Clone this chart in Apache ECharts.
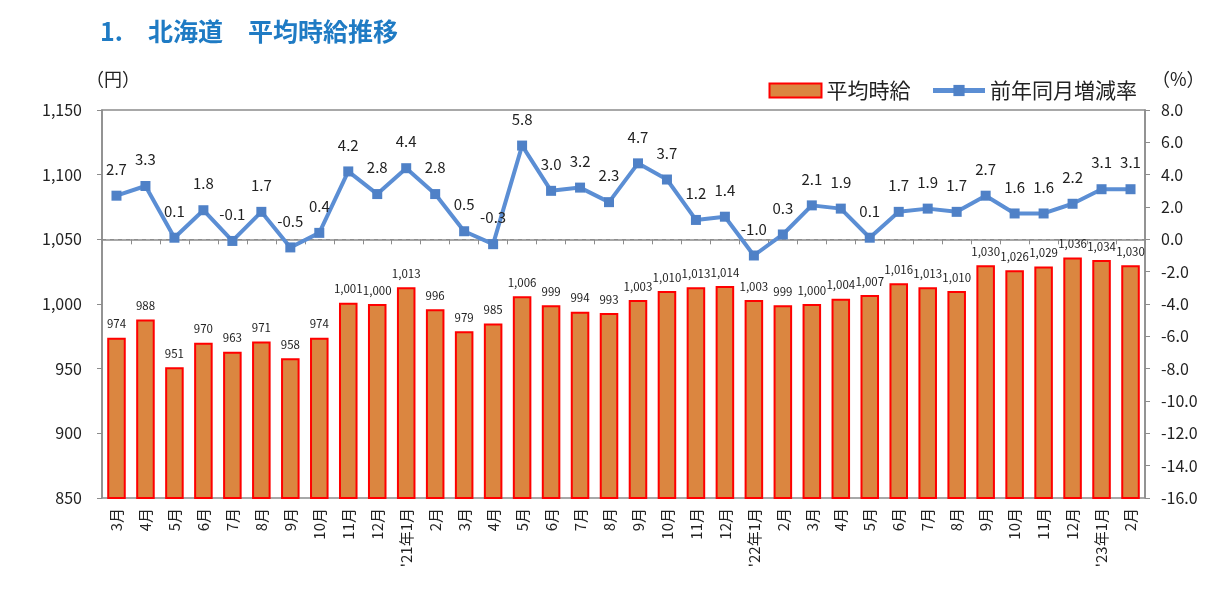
<!DOCTYPE html>
<html>
<head>
<meta charset="utf-8">
<script src="https://cdn.jsdelivr.net/npm/echarts@6/dist/echarts.min.js"></script>
<style>
  html, body { margin: 0; padding: 0; background: #fff; }
  #main { width: 1226px; height: 593px; }
</style>
</head>
<body>
<div id="main"></div>
<script>
// 月ラベル（2020年3月〜2023年2月）
var months = ["3月", "4月", "5月", "6月", "7月", "8月", "9月", "10月", "11月", "12月", "'21年1月", "2月",
    "3月", "4月", "5月", "6月", "7月", "8月", "9月", "10月", "11月", "12月", "'22年1月", "2月",
    "3月", "4月", "5月", "6月", "7月", "8月", "9月", "10月", "11月", "12月", "'23年1月", "2月"];
// 平均時給（円）
var wage = [974, 988, 951, 970, 963, 971, 958, 974, 1001, 1000, 1013, 996,
    979, 985, 1006, 999, 994, 993, 1003, 1010, 1013, 1014, 1003, 999,
    1000, 1004, 1007, 1016, 1013, 1010, 1030, 1026, 1029, 1036, 1034, 1030];
// 前年同月増減率（%）
var yoy = [2.7, 3.3, 0.1, 1.8, -0.1, 1.7, -0.5, 0.4, 4.2, 2.8, 4.4, 2.8,
    0.5, -0.3, 5.8, 3.0, 3.2, 2.3, 4.7, 3.7, 1.2, 1.4, -1.0, 0.3,
    2.1, 1.9, 0.1, 1.7, 1.9, 1.7, 2.7, 1.6, 1.6, 2.2, 3.1, 3.1];

var font = "Noto Sans CJK JP";
var chart = echarts.init(document.getElementById("main"));

function comma(v) {
    return String(v).replace(/\B(?=(\d{3})+(?!\d))/g, ",");
}

chart.setOption({
    animation: false,
    textStyle: { fontFamily: font },
    title: {
        text: "1.　北海道　平均時給推移",
        left: 95,
        top: 14,
        textStyle: { color: "#1F7BC4", fontSize: 25, fontWeight: "bold", fontFamily: font }
    },
    graphic: [
        { type: "text", left: 86, top: 70, style: { text: "（円）", fill: "#222", font: "18px '" + font + "'" } },
        { type: "text", left: 1152, top: 70, style: { text: "（%）", fill: "#222", font: "18px '" + font + "'" } }
    ],
    legend: {
        right: 84,
        top: 75,
        itemGap: 20,
        textStyle: { fontSize: 21, color: "#222", fontFamily: font },
        data: [
            { name: "平均時給", icon: "rect", itemStyle: { color: "#DB8640", borderColor: "#FF0000", borderWidth: 2 } },
            { name: "前年同月増減率", lineStyle: { width: 5 } }
        ],
        itemWidth: 52,
        itemHeight: 14
    },
    grid: {
        left: 102,
        right: 81,
        top: 110,
        bottom: 95,
        show: true,
        borderColor: "#8C8C8C",
        borderWidth: 1.5
    },
    xAxis: {
        type: "category",
        data: months,
        axisLine: { lineStyle: { color: "#8C8C8C", width: 1.5 } },
        axisTick: { show: true, length: 5, lineStyle: { color: "#8C8C8C" } },
        axisLabel: { rotate: 90, fontSize: 15, color: "#222", interval: 0, margin: 10 }
    },
    yAxis: [
        {
            type: "value",
            min: 850,
            max: 1150,
            interval: 50,
            axisLine: { show: true, lineStyle: { color: "#8C8C8C", width: 1.5 } },
            axisTick: { show: true, length: 5, lineStyle: { color: "#8C8C8C" } },
            splitLine: { show: false },
            axisLabel: { fontSize: 16, color: "#222", margin: 20, formatter: function (v) { return comma(v); } }
        },
        {
            type: "value",
            min: -16,
            max: 8,
            interval: 2,
            axisLine: { show: true, lineStyle: { color: "#8C8C8C", width: 1.5 } },
            axisTick: { show: true, length: 5, lineStyle: { color: "#8C8C8C" } },
            splitLine: { show: false },
            axisLabel: { fontSize: 16, color: "#222", margin: 16, formatter: function (v) { return v.toFixed(1); } }
        }
    ],
    series: [
        {
            name: "平均時給",
            type: "bar",
            data: wage,
            barWidth: "64%",
            itemStyle: { color: "#DB8640", borderColor: "#FF0000", borderWidth: 2 },
            label: {
                show: true,
                position: "top",
                distance: 8,
                fontSize: 11.5,
                color: "#222",
                formatter: function (p) { return comma(p.value); }
            }
        },
        {
            name: "前年同月増減率",
            type: "line",
            yAxisIndex: 1,
            data: yoy,
            symbol: "rect",
            symbolSize: 10,
            z: 5,
            lineStyle: { color: "#5B8ED4", width: 4 },
            itemStyle: { color: "#4F81C7" },
            label: {
                show: true,
                position: "top",
                distance: 14,
                fontSize: 15,
                color: "#222",
                formatter: function (p) { return p.value.toFixed(1); }
            },
            markLine: {
                silent: true,
                symbol: "none",
                label: { show: false },
                lineStyle: { color: "#8C8C8C", type: [4, 4], width: 1 },
                data: [{ yAxis: 0 }]
            }
        }
    ]
});
</script>
</body>
</html>
